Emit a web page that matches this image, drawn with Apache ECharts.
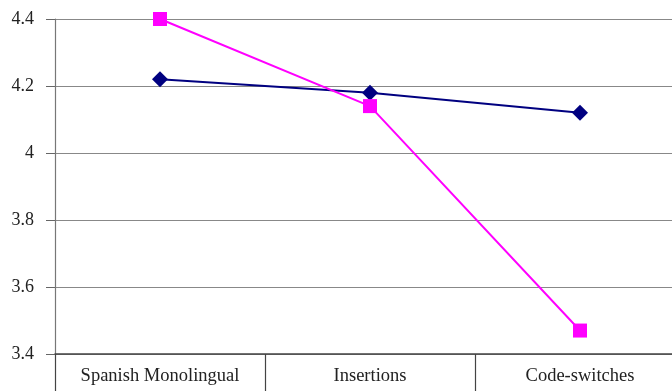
<!DOCTYPE html>
<html><head><meta charset="utf-8">
<script src="https://cdn.jsdelivr.net/npm/echarts@6/dist/echarts.min.js"></script>
<style>html,body{margin:0;padding:0;background:#fff;overflow:hidden}#c{width:700px;height:391px}</style>
</head><body><div id="c"></div>
<script>
const categories = ['Spanish Monolingual', 'Insertions', 'Code-switches'];
const seriesA = [4.22, 4.18, 4.12];
const seriesB = [4.40, 4.14, 3.47];
const chart = echarts.init(document.getElementById('c'));
const font = 'Liberation Serif';
chart.setOption({
  animation: false,
  grid: {left: 55, top: 19, width: 630, height: 335, containLabel: false},
  xAxis: {
    type: 'category', data: categories, boundaryGap: true,
    axisLine: {lineStyle: {color: '#444', width: 1.5}},
    axisTick: {show: true, interval: 0, length: 40, lineStyle: {color: '#444', width: 1.2}},
    axisLabel: {interval: 0, hideOverlap: false, color: '#222', fontFamily: font, fontSize: 18.5, margin: 13}
  },
  yAxis: {
    type: 'value', min: 3.4, max: 4.4, interval: 0.2,
    axisLine: {show: true, lineStyle: {color: '#777', width: 1.2}},
    axisTick: {show: true, length: 9, lineStyle: {color: '#666'}},
    splitLine: {lineStyle: {color: '#888', width: 1.2}},
    axisLabel: {color: '#222', fontFamily: font, fontSize: 18, margin: 21,
      formatter: v => String(Math.round(v * 10) / 10)}
  },
  series: [
    {type: 'line', data: seriesA, symbol: 'diamond', symbolSize: 16,
      lineStyle: {color: '#000080', width: 2}, itemStyle: {color: '#000080'}, z: 2},
    {type: 'line', data: seriesB, symbol: 'rect', symbolSize: 14,
      lineStyle: {color: '#ff00ff', width: 2}, itemStyle: {color: '#ff00ff'}, z: 3}
  ]
});
</script></body></html>
